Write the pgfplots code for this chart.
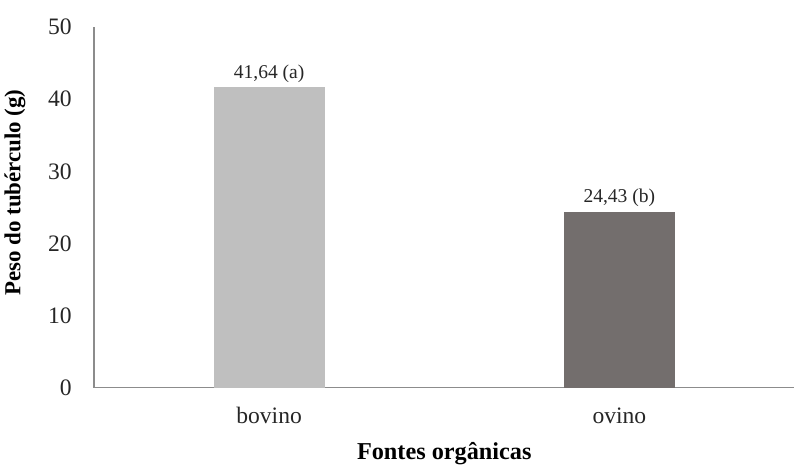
\documentclass[border=0pt]{standalone}
\usepackage{pgfplots}
\pgfplotsset{compat=1.18}
\usepackage{fontspec}
\setmainfont{Liberation Serif}

\definecolor{bovinocol}{HTML}{BFBFBF}
\definecolor{ovinocol}{HTML}{736E6D}
\definecolor{axiscol}{HTML}{8C8C8C}

\begin{document}
\begin{tikzpicture}
    \begin{axis}[
        scale only axis,
        width=520pt, height=268pt,
        xmin=-0.5, xmax=1.5,
        ymin=0, ymax=50,
        xtick={0,1},
        xticklabels={bovino, ovino},
        ytick={0,10,20,30,40,50},
        axis x line=bottom,
        axis y line=left,
        axis line style={axiscol, line width=0.8pt, -},
        major tick length=0pt,
        tick label style={font=\fontsize{17.5}{20}\selectfont, text=black!85},
        yticklabel style={xshift=-13pt},
        xticklabel style={yshift=-11pt},
        /pgf/number format/assume math mode=true,
        ylabel={\textbf{Peso do tubérculo (g)}},
        xlabel={\textbf{Fontes orgânicas}},
        ylabel style={font=\fontsize{17}{20}\selectfont, yshift=10pt, xshift=11pt},
        xlabel style={font=\fontsize{18}{21}\selectfont, yshift=-7pt},
        ybar,
        bar width=82.5pt,
        bar shift=0pt,
        nodes near coords style={font=\fontsize{14.5}{17}\selectfont, text=black!85, yshift=0pt},
        clip=false,
    ]
        \addplot[fill=bovinocol, draw=none, nodes near coords={41,64 (a)}]
            coordinates {(0,41.64)};
        \addplot[fill=ovinocol, draw=none, nodes near coords={24,43 (b)}]
            coordinates {(1,24.43)};
    \end{axis}
    % blank room above the plot, as in the reference
    \path ([yshift=20pt]current axis.north) -- ([yshift=20pt]current axis.north west);
\end{tikzpicture}
\end{document}
